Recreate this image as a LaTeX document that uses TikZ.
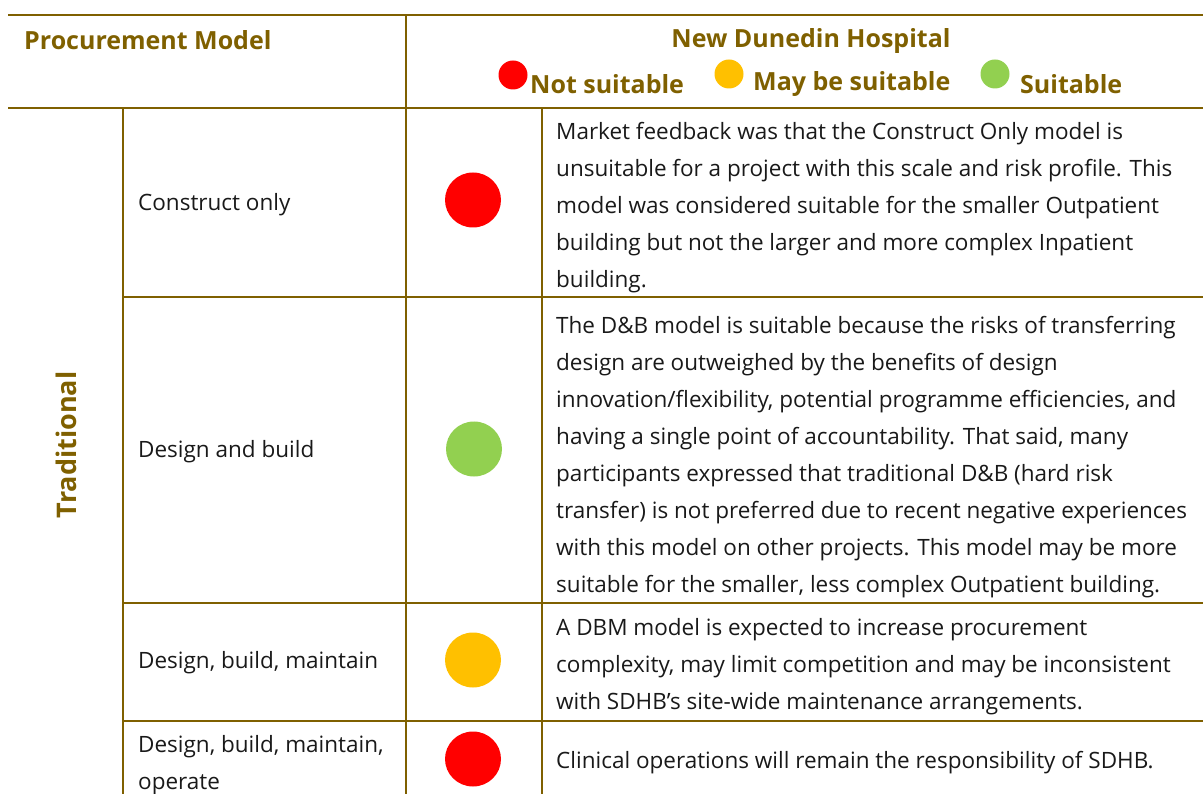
\documentclass[tikz,border=0pt]{standalone}
\usepackage{fontspec}
\usetikzlibrary{shapes.geometric}
\setmainfont{Open Sans}
\definecolor{brn}{HTML}{7F6000}
\definecolor{cred}{HTML}{FF0000}
\definecolor{corange}{HTML}{FFC000}
\definecolor{cgreen}{HTML}{92D050}
\begin{document}
\begin{tikzpicture}[x=1pt,y=-1pt,
  rule/.style={draw=brn,line width=2.4pt},
  head/.style={font=\fontsize{25}{30}\selectfont\bfseries, text=brn, inner sep=0},
  body/.style={font=\fontsize{22.5}{37}\selectfont, align=left, anchor=north west, inner sep=0, text=black!90},
  dot/.style={ellipse, minimum width=56pt, minimum height=55pt, inner sep=0},
  ldot/.style={circle, minimum size=29pt, inner sep=0}]
\useasboundingbox (0,0) rectangle (1203,794);
% rules
\draw[rule] (8,15) -- (1203,15);
\draw[rule] (8,108) -- (1203,108);
\draw[rule] (406,15) -- (406,794);
\draw[rule] (123,108) -- (123,794);
\draw[rule] (542,108) -- (542,794);
\draw[rule] (123,297) -- (1203,297);
\draw[rule] (123,603) -- (1203,603);
\draw[rule] (123,721) -- (1203,721);
% header
\node[head, anchor=west] (pm) at (24,40) {Procurement Model};
\node[head] (ndh) at (811,41) {New Dunedin Hospital};
\node[ldot, fill=cred] (lr) at (513,75) {};
\node[head, anchor=west] (lrt) at (530,84) {Not suitable};
\node[ldot, fill=corange] (lo) at (729,74) {};
\node[head, anchor=west] (lot) at (753,84) {May be suitable};
\node[ldot, fill=cgreen] (lg) at (995,74) {};
\node[head, anchor=west] (lgt) at (1020,84) {Suitable};
% group label
\node[head, rotate=90, font=\fontsize{27}{30}\selectfont\bfseries] (trad) at (66,445) {Traditional};
% model names
\node[body, anchor=west] (m1) at (138,205) {Construct only};
\node[body, anchor=west] (m2) at (138,452) {Design and build};
\node[body, anchor=west] (m3) at (138,663) {Design, build, maintain};
\node[body] (m4) at (138,735) {Design, build, maintain,\\operate};
% dots
\node[dot, fill=cred] (d1) at (473,200) {};
\node[dot, fill=cgreen] (d2) at (474,449) {};
\node[dot, fill=corange] (d3) at (473,660) {};
\node[dot, fill=cred] (d4) at (473,759) {};
% comments
\node[body] (c1) at (556,122) {Market feedback was that the Construct Only model is\\
unsuitable for a project with this scale and risk profile. This\\
model was considered suitable for the smaller Outpatient\\
building but not the larger and more complex Inpatient\\
building.};
\node[body] (c2) at (556,316) {The D\&B model is suitable because the risks of transferring\\
design are outweighed by the benefits of design\\
innovation/flexibility, potential programme efficiencies, and\\
having a single point of accountability. That said, many\\
participants expressed that traditional D\&B (hard risk\\
transfer) is not preferred due to recent negative experiences\\
with this model on other projects. This model may be more\\
suitable for the smaller, less complex Outpatient building.};
\node[body] (c3) at (556,618) {A DBM model is expected to increase procurement\\
complexity, may limit competition and may be inconsistent\\
with SDHB’s site-wide maintenance arrangements.};
\node[body, anchor=west] (c4) at (556,763) {Clinical operations will remain the responsibility of SDHB.};
\end{tikzpicture}
\end{document}
